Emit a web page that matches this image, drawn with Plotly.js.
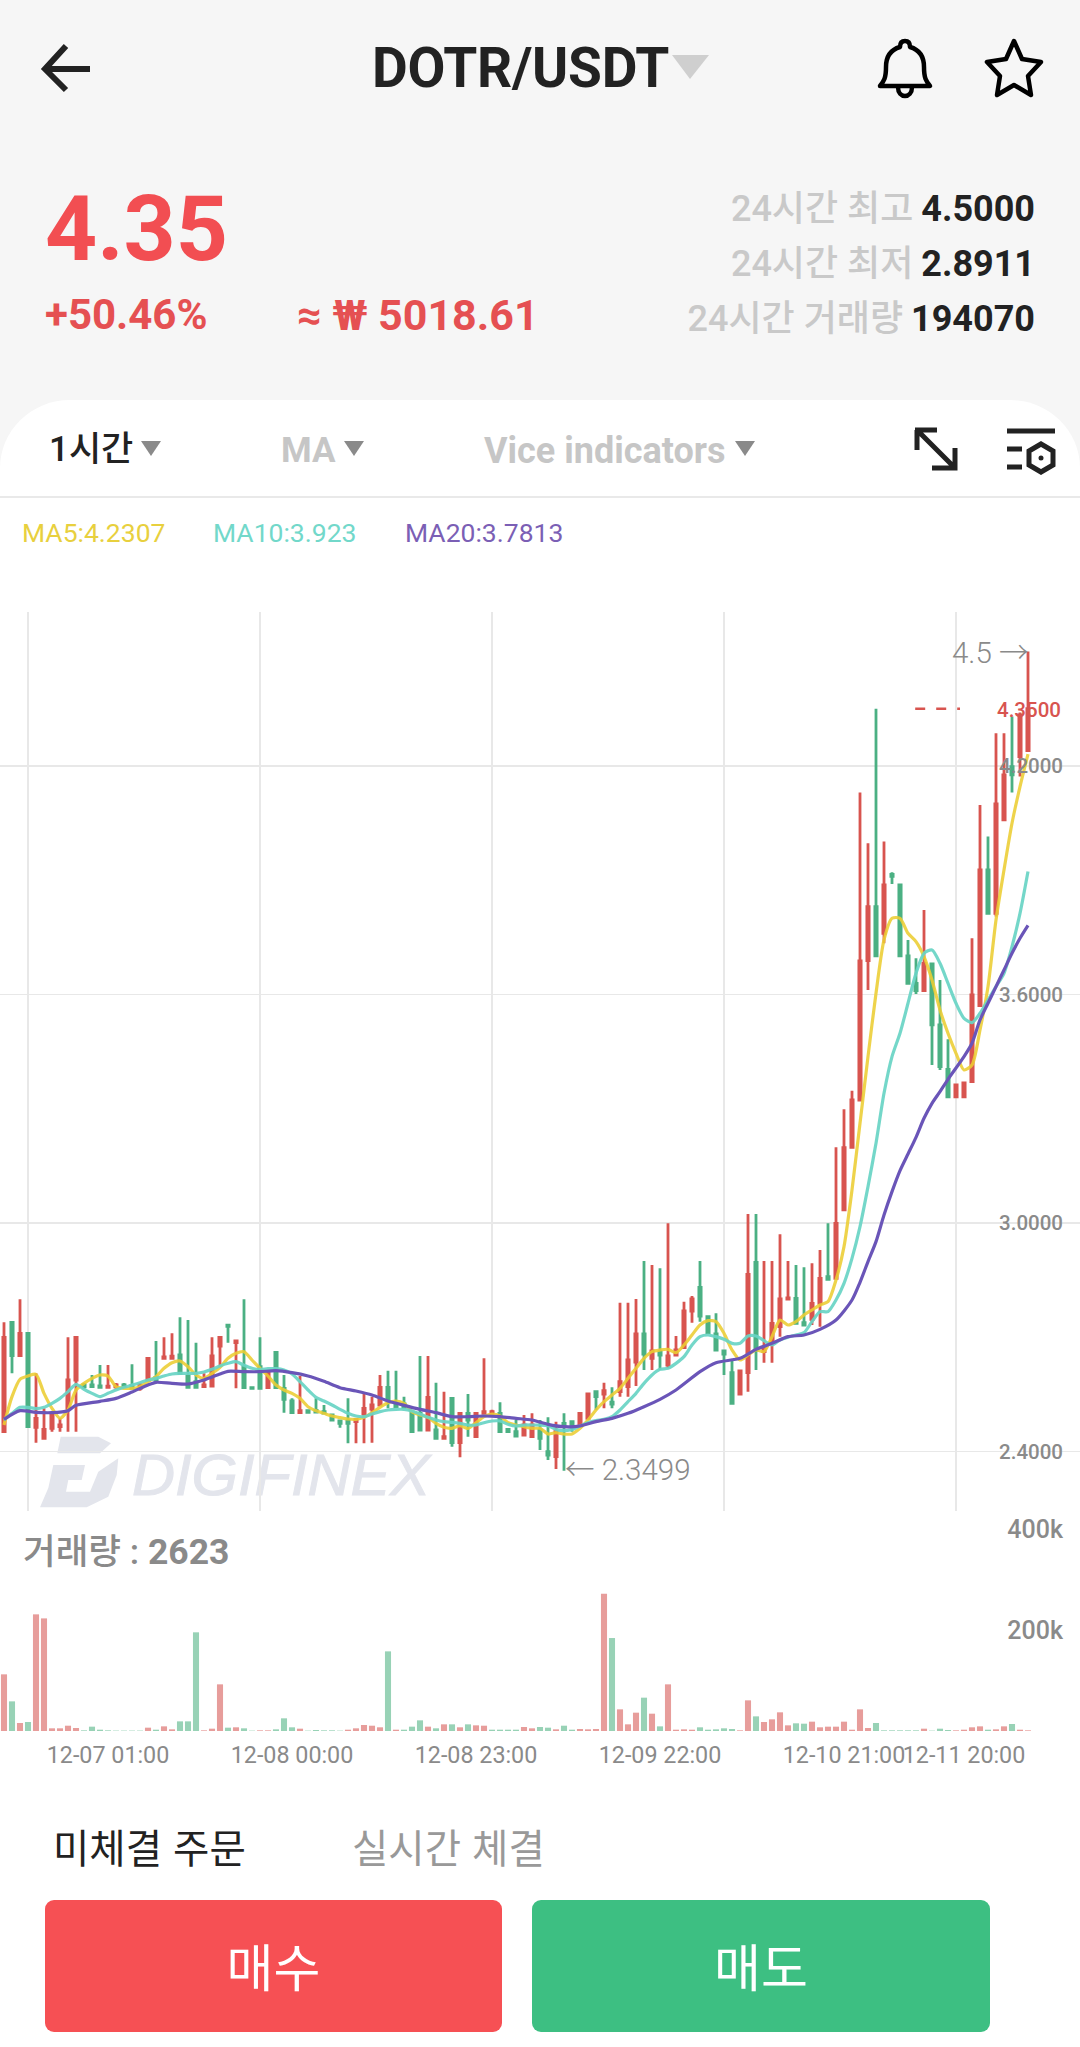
<!DOCTYPE html>
<html lang="ko"><head><meta charset="utf-8">
<script src="https://cdn.plot.ly/plotly-3.0.1.min.js"></script>
<style>
html,body{margin:0;padding:0;width:1080px;height:2047px;overflow:hidden;background:#f6f6f6;font-family:Roboto,'Noto Sans CJK KR',sans-serif}
.a{position:absolute;white-space:nowrap;line-height:1}
#panel{position:absolute;left:0;top:400px;width:1080px;height:1647px;background:#fff;border-radius:70px 70px 0 0 / 68px 68px 0 0}
#chart{position:absolute;left:0;top:0;width:1080px;height:2047px}
svg.a{overflow:visible}
.tri{position:absolute;width:0;height:0;border-style:solid;border-color:transparent;border-bottom-width:0}
.btn{position:absolute;top:1900px;height:132px;border-radius:9px;color:#fff;font-size:51px;font-weight:400;text-align:center;line-height:130px;font-family:'Noto Sans CJK KR'}
</style></head><body>
<div id="panel"></div>
<svg class="a" style="left:0;top:0" width="1080" height="400" fill="none" stroke="#222">
 <path d="M90 69H47M66 46L45 69L66 90" stroke-width="6"/>
 <path d="M905 41c3 0 5 2 5 6c10 3 14 11 14 20c0 11 2 14 6 19H880c4-5 6-8 6-19c0-9 4-17 14-20c0-4 2-6 5-6z" stroke-width="4.5" stroke="#000" stroke-linejoin="round"/>
 <path d="M898 87c0 12 14 12 14 0" stroke-width="4.5" stroke="#000"/>
 <path d="M1014 41l8 18l19 3l-13 14l3 19l-17-10l-17 10l3-19l-13-14l19-3z" stroke-width="4.5" stroke="#000" stroke-linejoin="round"/>
 <path d="M672 55H709L690 79z" fill="#cfcfcf" stroke="none"/>
</svg>
<svg class="a" style="left:0;top:400px" width="1080" height="110" fill="none" stroke="#222">
 <path d="M917 30V50M915 30H937M918 31L953 66M932 68H955V48" stroke-width="5"/>
 <path d="M1007 31H1055M1007 49H1022M1007 67H1022" stroke-width="5"/>
 <path d="M1041 44l12 7v14l-12 7l-12-7V51z" stroke-width="5"/><circle cx="1041" cy="58" r="2.5" fill="#222" stroke="none"/>
 <path d="M0 97H1080" stroke="#e9e9e9" stroke-width="2"/>
</svg>
<div class="a" style="left:372px;top:41px;font-size:55px;font-weight:700;color:#222;letter-spacing:-.3px">DOTR/USDT</div>
<div class="a" style="left:45px;top:184px;font-size:91px;font-weight:700;color:#f24e52">4.35</div>
<div class="a" style="left:45px;top:294px;font-size:42px;font-weight:700;color:#e55052">+50.46%</div>
<div class="a" style="left:297px;top:294px;font-size:43px;font-weight:700;color:#e55052">≈ ₩ 5018.61</div>
<div class="a" style="right:45px;top:191px;font-size:36px;font-weight:700;color:#222"><span style="color:#c9c9c9;font-weight:500;margin-right:8px">24시간 최고</span>4.5000</div>
<div class="a" style="right:45px;top:246px;font-size:36px;font-weight:700;color:#222"><span style="color:#c9c9c9;font-weight:500;margin-right:8px">24시간 최저</span>2.8911</div>
<div class="a" style="right:45px;top:301px;font-size:36px;font-weight:700;color:#222"><span style="color:#c9c9c9;font-weight:500;margin-right:8px">24시간 거래량</span>194070</div>
<div class="a" style="left:49px;top:432px;font-size:35px;font-weight:500;color:#222">1시간</div>
<div class="a" style="left:281px;top:433px;font-size:35px;font-weight:700;color:#c6c6c6">MA</div>
<div class="a" style="left:484px;top:433px;font-size:36px;font-weight:700;color:#c6c6c6">Vice indicators</div>
<div class="tri" style="left:141px;top:441px;border-width:15px 10px 0;border-top-color:#8a8a8a"></div>
<div class="tri" style="left:344px;top:441px;border-width:15px 10px 0;border-top-color:#8a8a8a"></div>
<div class="tri" style="left:735px;top:441px;border-width:15px 10px 0;border-top-color:#8a8a8a"></div>
<!-- watermark -->
<svg class="a" style="left:0;top:1430px" width="480" height="85" fill="#e3e5ec">
 <path d="M60.7 6.7H98.3L111 13.3L100 23.3H57.3z"/>
 <path d="M53.3 35H85L81.7 50H68.3L66 61.7H90L98.3 41.7L118.3 28.3L116.7 45L108.3 66.7L86.7 77.3H40L48.3 58z"/>
 <text x="132" y="65" font-family="Liberation Sans" font-weight="400" font-style="italic" font-size="58" stroke="#e3e5ec" stroke-width="1" textLength="298" lengthAdjust="spacingAndGlyphs">DIGIFINEX</text>
</svg>
<div id="chart"></div>
<div class="a" style="left:53px;top:1826px;font-size:39.5px;color:#222;font-family:'Noto Sans CJK KR'">미체결 주문</div>
<div class="a" style="left:352px;top:1826px;font-size:39.5px;color:#999;font-family:'Noto Sans CJK KR'">실시간 체결</div>
<div class="btn" style="left:45px;width:457px;background:#f65054">매수</div>
<div class="btn" style="left:532px;width:458px;background:#3dbf82">매도</div>
<script>
var opens=[2.4525,2.7395,2.652,2.7106,2.464,2.435,2.4613,2.4656,2.5138,2.5881,2.575,2.575,2.5724,2.5689,2.57,2.575,2.5724,2.566,2.5881,2.595,2.645,2.645,2.6538,2.5986,2.5838,2.5706,2.5724,2.6774,2.732,2.6861,2.6231,2.568,2.6231,2.568,2.6608,2.5663,2.533,2.5024,2.5076,2.5085,2.505,2.4963,2.4805,2.4805,2.4788,2.4989,2.512,2.5225,2.5689,2.5269,2.5251,2.5006,2.5006,2.4569,2.4569,2.435,2.54,2.4236,2.5006,2.4394,2.5006,2.5006,2.5006,2.4586,2.4525,2.4438,2.4394,2.4569,2.4,2.3869,2.4744,2.4788,2.47,2.4875,2.5575,2.5514,2.53,2.5575,2.5706,2.6354,2.7089,2.645,2.6625,2.6275,2.6538,2.673,2.7693,2.8314,2.7544,2.7089,2.6643,2.6074,2.5514,2.6074,2.897,2.6625,2.6888,2.7281,2.8008,2.8025,2.7386,2.7474,2.7894,2.8594,2.855,3.0344,3.1989,3.3231,3.6889,3.8306,3.7606,3.915,3.8875,3.7011,3.6294,3.6101,3.6801,3.52,3.4036,3.331,3.331,3.3713,3.5708,3.9269,3.8131,4.0581,4.1981,4.2244,4.24];
var highs=[2.7395,2.7395,2.8,2.7106,2.6056,2.5138,2.505,2.4875,2.7001,2.7001,2.58,2.6013,2.6275,2.6275,2.58,2.58,2.6293,2.58,2.645,2.6905,2.7001,2.7106,2.7526,2.7456,2.6861,2.6056,2.7001,2.7001,2.7325,2.6905,2.7999,2.568,2.7001,2.6056,2.6608,2.6013,2.54,2.5986,2.5076,2.54,2.5225,2.4963,2.4805,2.54,2.4875,2.5514,2.5444,2.6013,2.6126,2.6126,2.5444,2.5006,2.6511,2.6511,2.5811,2.5575,2.54,2.5006,2.5514,2.5006,2.645,2.51,2.5295,2.4586,2.4831,2.4963,2.5006,2.4831,2.4901,2.4788,2.5006,2.4788,2.5006,2.5514,2.5575,2.5811,2.5689,2.7911,2.7911,2.8008,2.9005,2.89,2.8813,2.9994,2.7036,2.7938,2.8086,2.9005,2.7544,2.7631,2.6643,2.6406,2.6118,3.0239,3.0239,2.9005,2.9005,2.9705,2.9005,2.89,2.8839,2.8944,2.9294,2.9994,3.1989,3.2986,3.3476,4.13,3.9969,4.35,4.0013,3.9208,3.8875,3.7431,3.695,3.8219,3.6801,3.6381,3.4824,3.3625,3.3678,3.7475,4.0975,4.0144,4.2856,4.2856,4.3294,4.34,4.5];
var lows=[2.4525,2.6056,2.652,2.4656,2.4236,2.435,2.4525,2.4525,2.4525,2.4525,2.565,2.5689,2.5689,2.5689,2.565,2.568,2.5663,2.56,2.5881,2.5881,2.645,2.645,2.6056,2.5689,2.5689,2.5706,2.5724,2.6231,2.6861,2.5663,2.568,2.566,2.5663,2.568,2.568,2.5024,2.5024,2.5024,2.5033,2.5024,2.5006,2.4831,2.463,2.4219,2.4219,2.4219,2.4236,2.5225,2.5138,2.5181,2.5138,2.4525,2.4569,2.4569,2.435,2.435,2.4131,2.3851,2.4394,2.4394,2.5006,2.4985,2.4525,2.4525,2.4411,2.4411,2.4394,2.4044,2.3781,2.3545,2.3499,2.4525,2.47,2.4875,2.5094,2.5138,2.5138,2.5444,2.5444,2.5724,2.6144,2.6144,2.6144,2.6188,2.6538,2.673,2.7386,2.7413,2.7124,2.6669,2.6013,2.5269,2.5514,2.5575,2.6144,2.6336,2.6336,2.7019,2.8008,2.7369,2.7325,2.7325,2.7281,2.8524,2.855,3.0344,3.1989,3.3231,3.6119,3.7011,3.7344,3.8901,3.7011,3.6294,3.6014,3.6101,3.415,3.4019,3.331,3.331,3.331,3.3713,3.5708,3.8131,3.8044,4.0581,4.1299,4.1719,4.24];
var closes=[2.7001,2.652,2.7106,2.4656,2.4875,2.4586,2.5006,2.47,2.5881,2.7001,2.57,2.5706,2.5689,2.572,2.575,2.57,2.5663,2.575,2.645,2.5881,2.649,2.651,2.6056,2.5689,2.5689,2.575,2.6511,2.7001,2.729,2.6905,2.568,2.566,2.5663,2.6056,2.568,2.5374,2.5024,2.5076,2.5033,2.5041,2.501,2.4831,2.4744,2.4744,2.4849,2.5138,2.5225,2.5689,2.5356,2.5181,2.5164,2.4525,2.4569,2.5426,2.435,2.4394,2.4236,2.5006,2.4831,2.5006,2.505,2.505,2.4525,2.4525,2.4411,2.47,2.47,2.435,2.3913,2.4525,2.4656,2.4656,2.5006,2.5514,2.5444,2.5601,2.525,2.5838,2.6406,2.7089,2.6564,2.6643,2.6538,2.6511,2.6669,2.7693,2.8008,2.7561,2.7124,2.6669,2.6564,2.5269,2.6118,2.8655,2.6669,2.6713,2.7369,2.8008,2.8035,2.7369,2.7325,2.7894,2.855,2.8524,2.9994,3.198,3.3231,3.688,3.8306,3.7011,3.8875,3.91,3.7011,3.6294,3.6101,3.6819,3.52,3.4106,3.331,3.3625,3.3678,3.5988,3.9269,3.8131,4.1,4.1763,4.1763,4.3338,4.35];
var volumes=[112200,58700,15840,17800,231000,223000,5300,5300,10500,5900,1300,8600,2600,1300,800,800,800,800,6600,2600,9200,3300,19100,19100,195400,1300,4600,92400,6600,7300,5300,700,1300,1300,3300,25100,7300,4600,700,2000,1300,1300,700,2600,5300,11900,10500,7300,157700,2600,2600,8600,21100,8600,5300,13200,13200,7300,13200,11200,10500,2600,2600,2600,2600,7900,5300,7900,6600,3300,10500,2600,4000,3300,4000,271900,184100,42900,13200,36300,66000,34300,9200,92400,2600,3300,2600,7300,2600,3300,5300,4000,1300,60700,29000,17800,23100,37000,11200,15200,14500,18500,7300,8600,8600,18500,2600,42900,5900,15800,1300,1300,1300,1300,1300,4600,700,4600,2000,1300,2600,7300,9200,2600,3300,9200,13900,2600,1300];
var volumeUp=[1,0,1,0,1,1,1,1,1,1,0,0,0,0,0,0,0,0,1,0,1,1,0,0,0,1,1,1,0,1,0,0,1,1,0,0,0,1,0,0,0,0,0,1,1,1,1,1,0,1,0,0,0,1,0,1,0,1,0,1,1,0,0,0,0,1,1,0,0,1,0,0,1,1,1,1,0,1,1,1,0,1,0,1,1,1,1,0,0,0,0,0,1,1,0,1,1,1,1,0,0,1,1,1,1,1,1,1,1,0,0,0,0,0,0,1,0,0,0,1,1,1,1,0,1,1,0,1,1];
var ma5=[2.47,2.5444,2.5899,2.5986,2.603,2.5531,2.5138,2.4875,2.5094,2.5619,2.5794,2.5925,2.6013,2.5986,2.5706,2.5663,2.5663,2.5706,2.5838,2.5969,2.6188,2.6336,2.638,2.6231,2.6013,2.5925,2.6056,2.6214,2.645,2.6581,2.6625,2.6406,2.6188,2.5986,2.575,2.5619,2.5531,2.54,2.5181,2.5076,2.5006,2.4936,2.4893,2.4858,2.4849,2.4901,2.5024,2.5164,2.5286,2.533,2.5269,2.505,2.4963,2.4901,2.4744,2.4639,2.4613,2.4683,2.4613,2.4761,2.4919,2.4989,2.4936,2.4761,2.47,2.4656,2.4613,2.4613,2.4464,2.4499,2.4464,2.4464,2.4613,2.4831,2.5094,2.5313,2.5488,2.5663,2.5925,2.6188,2.645,2.6625,2.6669,2.6686,2.6599,2.68,2.7063,2.7325,2.7439,2.7413,2.7106,2.6669,2.6406,2.6538,2.6669,2.6625,2.7019,2.7456,2.7325,2.7413,2.7588,2.7719,2.785,2.7938,2.8506,2.9381,3.0869,3.2619,3.4369,3.6031,3.7431,3.8,3.8,3.7606,3.7388,3.6994,3.6381,3.5594,3.4981,3.4456,3.4019,3.415,3.5069,3.6206,3.7956,3.9269,4.0494,4.1456,4.2307];
var ma10=[2.4831,2.5006,2.5164,2.5164,2.5129,2.5164,2.5269,2.54,2.5575,2.5768,2.5636,2.5531,2.5444,2.5531,2.5619,2.5689,2.575,2.5811,2.5881,2.5925,2.5986,2.6039,2.6056,2.6056,2.6056,2.6091,2.6161,2.6249,2.6319,2.6363,2.6266,2.6188,2.6161,2.6179,2.6179,2.6144,2.6039,2.5838,2.5619,2.5426,2.533,2.5225,2.5111,2.5006,2.4936,2.4919,2.4989,2.505,2.5094,2.5111,2.5111,2.5068,2.4989,2.4901,2.4831,2.4788,2.477,2.4744,2.47,2.47,2.4761,2.4805,2.4805,2.4718,2.4674,2.47,2.47,2.47,2.4683,2.4586,2.4551,2.4586,2.4674,2.4761,2.4814,2.4849,2.4919,2.5094,2.5313,2.5531,2.5794,2.6013,2.6161,2.6188,2.6319,2.6494,2.68,2.7019,2.7063,2.7019,2.6949,2.6844,2.6844,2.7036,2.7036,2.6914,2.68,2.6931,2.7001,2.7063,2.7124,2.7413,2.7675,2.7675,2.7981,2.8419,2.9075,2.9906,3.0956,3.2094,3.3406,3.4369,3.4981,3.5769,3.6556,3.7081,3.7169,3.6819,3.6294,3.5769,3.5375,3.5261,3.5506,3.5856,3.6206,3.6556,3.7256,3.8131,3.923];
var ma20Index=[0,2,4,6,8,9,12,14,16,18,19,21,23,25,27,28,30,32,34,36,38,40,42,44,46,48,50,52,54,56,58,60,62,64,66,68,70,72,74,76,78,80,82,84,87,89,92,94,96,98,100,102,104,106,107,108,109,110,111,112,113,114,115,116,117,118,120,121,122,123,124,125,126,127,128];
var ma20=[2.4849,2.5076,2.5033,2.5024,2.5076,2.5216,2.5321,2.54,2.5566,2.575,2.582,2.5794,2.5776,2.5881,2.6039,2.6109,2.61,2.61,2.6126,2.6074,2.5986,2.5846,2.568,2.5593,2.5488,2.533,2.5216,2.5111,2.5024,2.4919,2.4919,2.4936,2.4919,2.4875,2.4831,2.4718,2.4656,2.4674,2.4788,2.4875,2.5006,2.5181,2.5374,2.5619,2.61,2.6336,2.645,2.6686,2.6844,2.7019,2.7063,2.7211,2.7456,2.7981,2.8445,2.8988,2.9513,3.0213,3.0825,3.1376,3.1814,3.2251,3.275,3.3144,3.345,3.3774,3.4369,3.4719,3.5331,3.5769,3.6206,3.6644,3.7081,3.7475,3.7813];
var priceTicks=[2.4,3,3.6,4.2];
var volumeTicks=[200000,400000];
var volumeTickText=['200k','400k'];
var gridIndex=[3,32,61,90,119];
var timeIndex=[13,36,59,82,105,120];
var timeLabels=['12-07 01:00','12-08 00:00','12-08 23:00','12-09 22:00','12-10 21:00','12-11 20:00'];
var lastPrice=4.35, lastPriceIndex=[113.9,119.5];
var idx=opens.map(function(_,i){return i});
var RED='#d8544f',GREEN='#4bb083',GREY='#8a8a8a';
var fam="Roboto,'Noto Sans CJK KR',sans-serif";
function fy(Y){return 1-Y/2047}
var traces=[
 {type:'candlestick',x:idx,open:opens,high:highs,low:lows,close:closes,xaxis:'x',yaxis:'y',whiskerwidth:0,
  increasing:{line:{color:RED,width:2.8},fillcolor:RED},decreasing:{line:{color:GREEN,width:2.8},fillcolor:GREEN},hoverinfo:'skip'},
 {type:'scatter',mode:'lines',x:idx,y:ma5,line:{color:'rgba(236,205,50,0.88)',width:3.2,shape:'spline',smoothing:.7},xaxis:'x',yaxis:'y',hoverinfo:'skip'},
 {type:'scatter',mode:'lines',x:idx,y:ma10,line:{color:'rgba(104,212,196,0.92)',width:3.2,shape:'spline',smoothing:.7},xaxis:'x',yaxis:'y',hoverinfo:'skip'},
 {type:'scatter',mode:'lines',x:ma20Index,y:ma20,line:{color:'#6a55b8',width:3.2,shape:'spline',smoothing:.7},xaxis:'x',yaxis:'y',hoverinfo:'skip'},
 {type:'scatter',mode:'lines',x:lastPriceIndex,y:[lastPrice,lastPrice],line:{color:RED,width:2.6,dash:'10px,11px'},xaxis:'x',yaxis:'y',hoverinfo:'skip'},
 {type:'bar',x:idx,y:volumes,width:.76,marker:{color:volumeUp.map(function(u){return u?'#e79d9b':'#98d2b6'}),line:{width:0}},xaxis:'x2',yaxis:'y2',hoverinfo:'skip'}
];
function note(text,xp,Y,color,size,anchor,weight){return {text:text,xref:'paper',yref:'paper',x:xp/1080,y:fy(Y),xanchor:anchor||'left',yanchor:'middle',showarrow:false,align:anchor||'left',font:{family:fam,size:size,color:color,weight:weight||400},borderpad:0}}
var layout={
 width:1080,height:2047,margin:{l:0,r:0,t:0,b:0,pad:0},paper_bgcolor:'rgba(0,0,0,0)',plot_bgcolor:'rgba(0,0,0,0)',showlegend:false,boxgap:.6,
 xaxis:{domain:[0,1],range:[-.5,134.5],anchor:'y',showgrid:false,zeroline:false,showticklabels:false,ticks:'',rangeslider:{visible:false},
  minor:{tickmode:'array',tickvals:gridIndex,showgrid:true,gridcolor:'#e8e8e8',gridwidth:1.3,ticks:''}},
 yaxis:{domain:[fy(1511),fy(612)],range:[2.2443,4.6039],anchor:'x',side:'right',tickmode:'array',tickvals:priceTicks,tickformat:'.4f',showgrid:true,gridcolor:'#e8e8e8',gridwidth:1.3,zeroline:false,ticks:'',ticklabelposition:'inside',ticklabelstandoff:14,tickfont:{family:fam,size:20.5,color:GREY,weight:500}},
 xaxis2:{domain:[0,1],range:[-.5,134.5],anchor:'y2',showgrid:false,zeroline:false,ticks:'',tickmode:'array',tickvals:timeIndex,ticktext:timeLabels,tickangle:0,tickfont:{family:fam,size:23.3,color:GREY},ticklabelstandoff:8},
 yaxis2:{domain:[fy(1731),fy(1500)],range:[0,457426],anchor:'x2',side:'right',tickmode:'array',tickvals:volumeTicks,ticktext:volumeTickText,showgrid:false,zeroline:false,ticks:'',ticklabelposition:'inside',ticklabelstandoff:14,tickfont:{family:fam,size:25,color:GREY,weight:500}},
 annotations:[
  note('MA5:4.2307',21,532,'#e8d03e',26.5),
  note('MA10:3.923',212,532,'#72d8ca',26.5),
  note('MA20:3.7813',404,532,'#7b5fb5',26.5),
  note('거래량 : <b>2623</b>',22,1552,GREY,35.5,'left',500),
  note('4.3500',1062,710,RED,20.5,'right',500),
  note('4.5 →',1029,653,GREY,29.5,'right',300),
  note('← 2.3499',564,1470,GREY,29.5,'left',300)
 ]
};
Plotly.newPlot('chart',traces,layout,{staticPlot:true,displayModeBar:false,responsive:false});
</script>
</body></html>
